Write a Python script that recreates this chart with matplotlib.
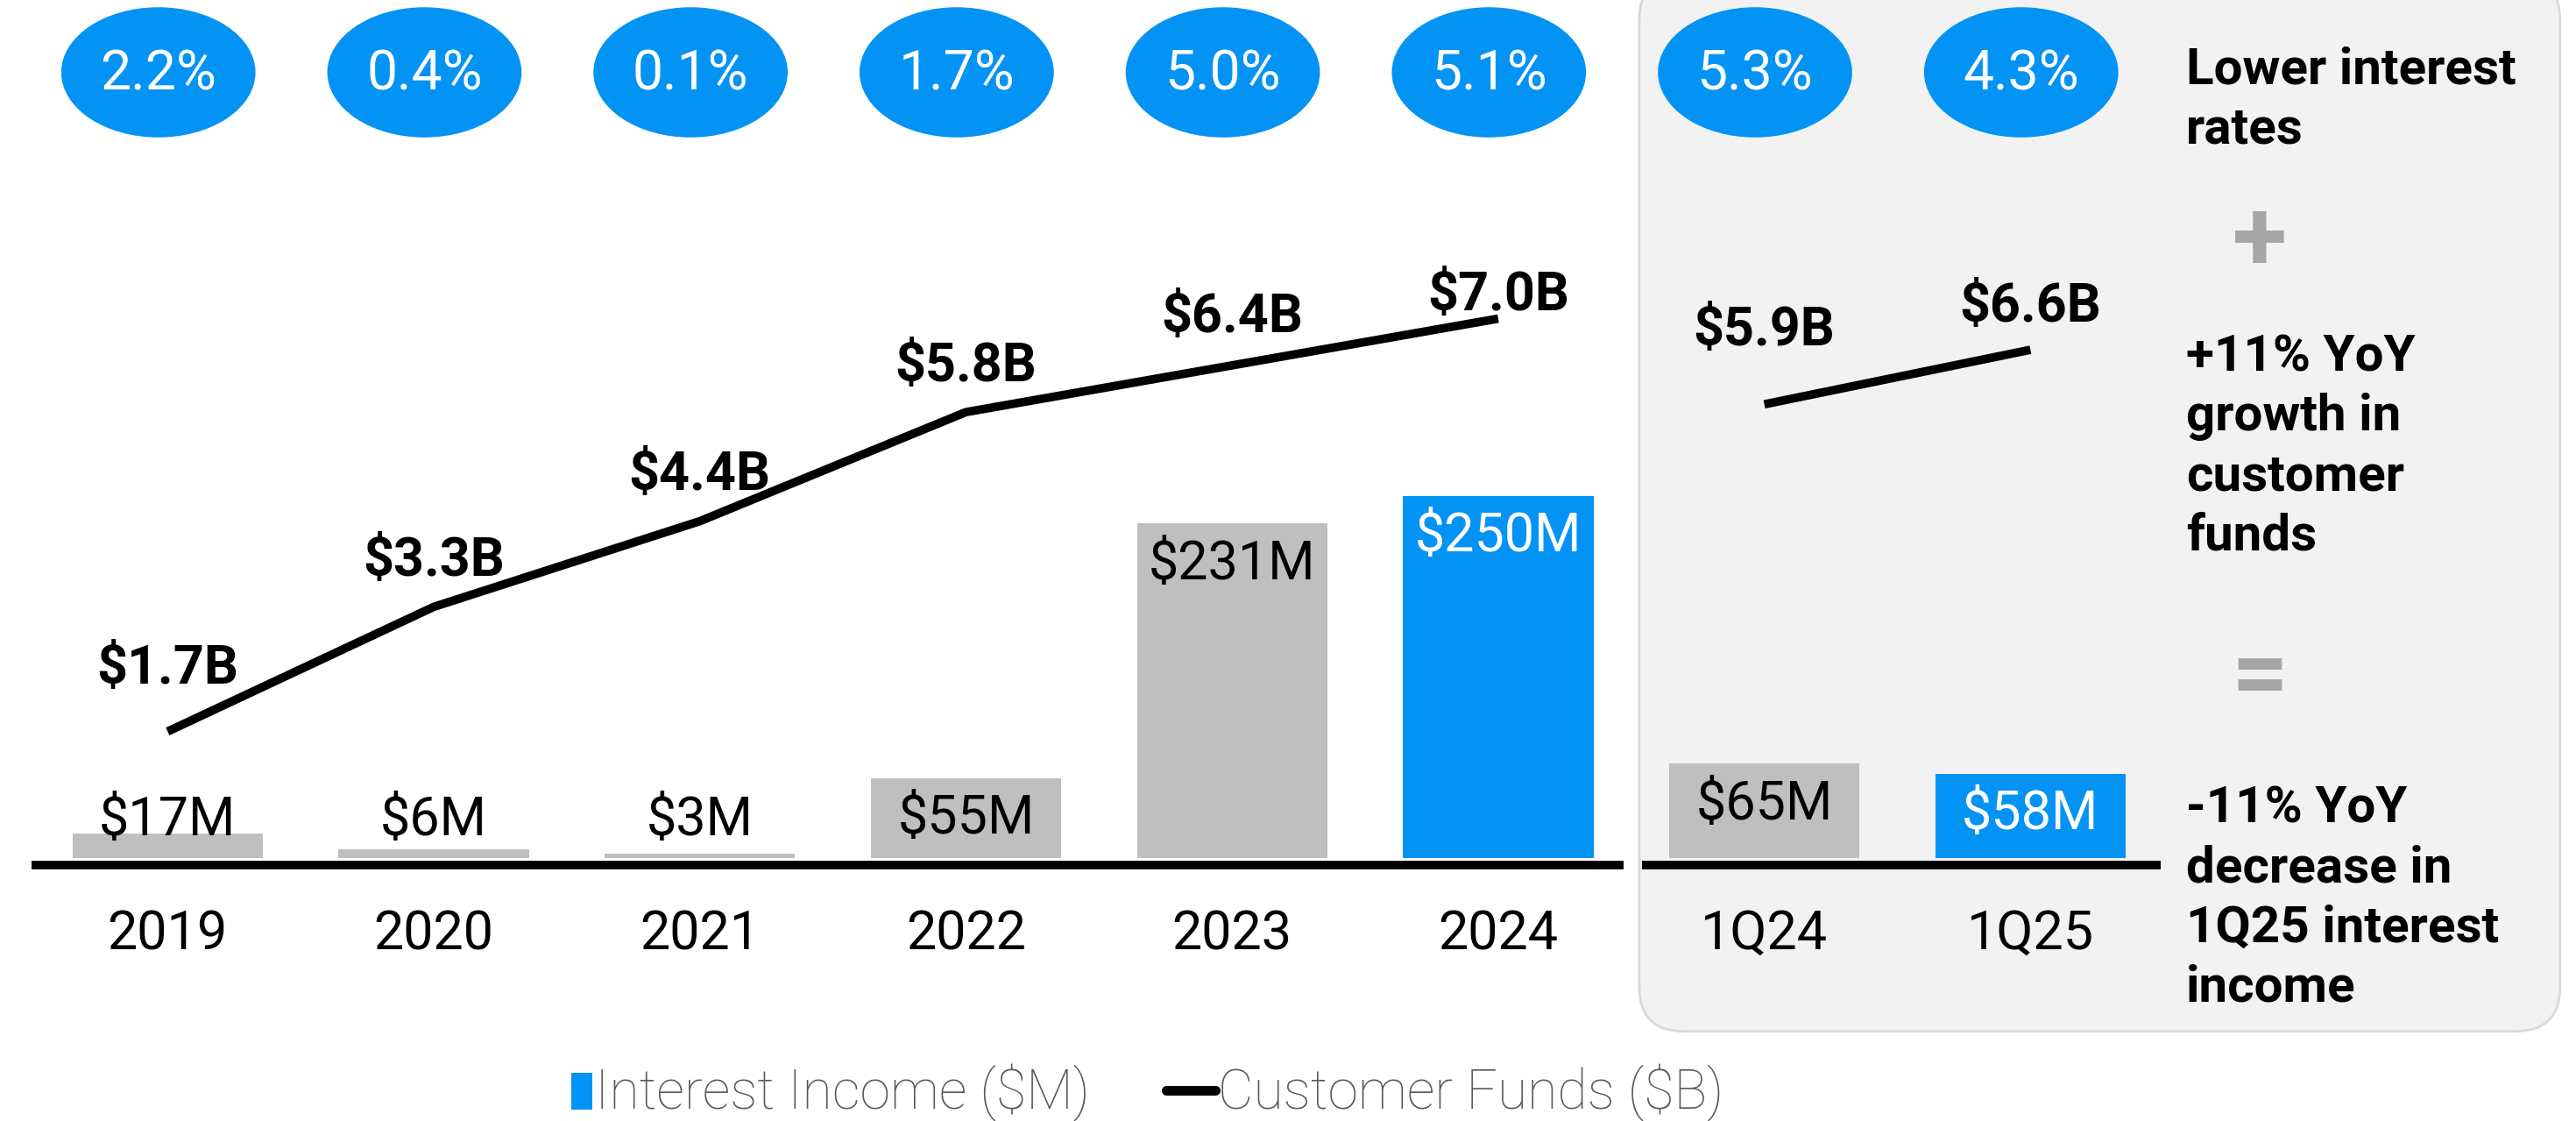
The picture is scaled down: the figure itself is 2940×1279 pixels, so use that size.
import matplotlib
matplotlib.use("Agg")
import matplotlib.pyplot as plt
from matplotlib.legend_handler import HandlerPatch
from matplotlib.lines import Line2D
from matplotlib.patches import Ellipse, FancyBboxPatch, Patch, Rectangle

# data
periods = ["2019", "2020", "2021", "2022", "2023", "2024", "1Q24", "1Q25"]
interest_income = [17, 6, 3, 55, 231, 250, 65, 58]  # $M
funds_years = ["2019", "2020", "2021", "2022", "2023", "2024"]
funds_year_values = [1.7, 3.3, 4.4, 5.8, 6.4, 7.0]  # $B
funds_quarters = ["1Q24", "1Q25"]
funds_quarter_values = [5.9, 6.6]  # $B
rates = ["2.2%", "0.4%", "0.1%", "1.7%", "5.0%", "5.1%", "5.3%", "4.3%"]
highlighted = ["2024", "1Q25"]

BLUE = "#0393F4"
GRAY = "#BFBFBF"
PANEL = "#F2F2F2"
TEXT_GRAY = "#595959"

plt.rcParams["font.family"] = ["Roboto", "DejaVu Sans"]

fig = plt.figure(figsize=(29.4, 12.79), dpi=100)
ax = fig.add_axes([0, 0, 1, 1])
ax.set_xlim(-0.63, 9.05)
ax.set_ylim(-182, 593)
ax.axis("off")

xpos = {p: i for i, p in enumerate(periods)}

# grey side panel for the quarterly comparison
panel = FancyBboxPatch(
    (5.53, -120), 3.46, 730,
    boxstyle="round,pad=0,rounding_size=0.17", mutation_aspect=180,
    facecolor=PANEL, edgecolor="#D9D9D9", linewidth=2, zorder=0,
)
ax.add_patch(panel)

# bars
colors = [BLUE if p in highlighted else GRAY for p in periods]
ax.bar(range(len(periods)), interest_income, width=0.715, color=colors, zorder=2)

for i, v in enumerate(interest_income):
    ly = max(v - 28, 26)
    tc = "white" if periods[i] in highlighted else "black"
    ax.text(i, ly, f"${v}M", ha="center", va="center", fontsize=44, color=tc, zorder=4)
    ax.text(i, -53, periods[i], ha="center", va="center", fontsize=44, color="black")

# baselines
ax.plot([-0.51, 5.47], [-5, -5], color="black", lw=7, solid_capstyle="butt", zorder=3)
ax.plot([5.54, 7.49], [-5, -5], color="black", lw=7, solid_capstyle="butt", zorder=3)

# rate bubbles
for i, r in enumerate(rates):
    ax.add_patch(Ellipse((i - 0.035, 543), 0.73, 90, facecolor=BLUE, edgecolor="none", zorder=2))
    ax.text(i - 0.035, 541, r, ha="center", va="center", fontsize=45, color="white", zorder=3)

# customer funds line on its own scale
ax2 = ax.twinx()
ax2.set_ylim(-3.30, 11.09)
ax2.axis("off")
yx = [xpos[p] for p in funds_years]
qx = [xpos[p] for p in funds_quarters]
ax2.plot(yx, funds_year_values, color="black", lw=7, solid_capstyle="butt", zorder=5)
ax2.plot(qx, funds_quarter_values, color="black", lw=7, solid_capstyle="butt", zorder=5)

label_offsets = [38, 28, 28, 28, 29, 14, 45, 26]  # layout only
points = list(zip(yx, funds_year_values)) + list(zip(qx, funds_quarter_values))
for (x, v), off in zip(points, label_offsets):
    ax2.annotate(f"${v:.1f}B", (x, v), xytext=(0, off * 1.35), textcoords="offset points",
                 ha="center", va="center", fontsize=44, fontweight="bold", zorder=6)

# right-hand commentary
tx = 7.585
ax.text(tx, 524, "Lower interest\nrates", ha="left", va="center", fontsize=42,
        fontweight="bold", linespacing=1.3)
ax.text(7.86, 425, "+", ha="center", va="center", fontsize=82, fontweight="bold", color="#A6A6A6")
ax.text(tx, 284, "+11% YoY\ngrowth in\ncustomer\nfunds", ha="left", va="center", fontsize=42,
        fontweight="bold", linespacing=1.3)
ax.text(7.86, 124, "=", ha="center", va="center", fontsize=82, fontweight="bold", color="#A6A6A6")
ax.text(tx, -28, "-11% YoY\ndecrease in\n1Q25 interest\nincome", ha="left", va="center", fontsize=42,
        fontweight="bold", linespacing=1.3)


# legend: small square for the bars, short thick bar for the line
def narrow_box(legend, orig_handle, xdescent, ydescent, width, height, fontsize):
    w = width * 0.42
    return Rectangle((-xdescent + width - w, -ydescent), w, height * 0.95)


handles = [
    Patch(facecolor=BLUE, edgecolor="none", label="Interest Income ($M)"),
    Line2D([], [], color="black", lw=8, solid_capstyle="round", label="Customer Funds ($B)"),
]
leg = fig.legend(handles=handles, loc="center", bbox_to_anchor=(0.44, 0.025), ncol=2,
                 frameon=False, fontsize=45, handlelength=0.9, handleheight=0.7,
                 handletextpad=0.05, columnspacing=1.4,
                 handler_map={Patch: HandlerPatch(patch_func=narrow_box)})
for t in leg.get_texts():
    t.set_color(TEXT_GRAY)
    t.set_fontweight("light")

fig.savefig("out.png", dpi=100)
